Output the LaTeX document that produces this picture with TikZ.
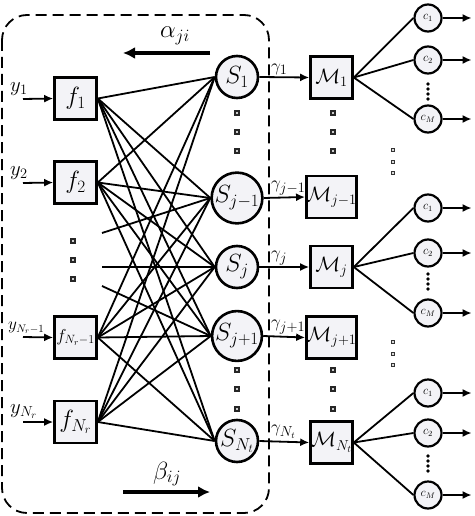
\documentclass[tikz,border=0pt]{standalone}
\usetikzlibrary{arrows.meta}
\definecolor{boxfill}{RGB}{243,243,247}
\tikzset{
  fbox/.style={draw, line width=2.6pt, fill=boxfill, minimum size=42pt, inner sep=0pt, font=\fontsize{24}{26}\selectfont},
  snode/.style={draw, circle, line width=2.6pt, fill=boxfill, minimum size=42pt, inner sep=0pt, font=\fontsize{25}{27}\selectfont},
  mbox/.style={draw, line width=2.6pt, fill=boxfill, minimum size=42pt, inner sep=0pt, font=\fontsize{20}{22}\selectfont},
  cnode/.style={draw, circle, line width=2.2pt, fill=boxfill, minimum size=27pt, inner sep=0pt, font=\fontsize{12}{14}\selectfont},
  edge/.style={line width=1.8pt},
  arr/.style={line width=1.8pt, -{Latex[length=9pt,width=8pt]}},
  bigarr/.style={line width=3.2pt, -{Latex[length=12pt,width=12pt]}},
  sqdot/.style={draw=black!85, line width=1.3pt, fill=gray!40, minimum size=4pt, inner sep=0pt},
  smdot/.style={draw=black!80, line width=0.9pt, fill=gray!30, minimum size=3pt, inner sep=0pt},
  lbl/.style={inner sep=1pt, font=\fontsize{20}{22}\selectfont},
  glbl/.style={inner sep=1pt, anchor=south west, font=\fontsize{19}{21}\selectfont},
}
\begin{document}
\begin{tikzpicture}[x=1pt,y=-1pt]
\useasboundingbox (0,0) rectangle (474,516);
% dashed frame
\draw[line width=1.8pt, dash pattern=on 11pt off 6pt, rounded corners=25pt] (2,15) rectangle (269,513);
% f nodes
\node[fbox] (f1) at (75.5,98.5) {$f_1$};
\node[fbox] (f2) at (75.5,182.5) {$f_2$};
\node[fbox, font=\fontsize{18}{20}\selectfont] (fa) at (75.5,337.5) {$f_{N_r-1}$};
\node[fbox] (fb) at (75.5,422) {$f_{N_r}$};
% inputs
\coordinate (i1) at (23,99);
\coordinate (i2) at (23,183);
\coordinate (ia) at (23,337);
\coordinate (ib) at (23,422);
\draw[arr] (i1) -- (f1.west);
\draw[arr] (i2) -- (f2.west);
\draw[arr] (ia) -- (fa.west);
\draw[arr] (ib) -- (fb.west);
\node[lbl, anchor=south west] (ly1) at (9,97) {$y_1$};
\node[lbl, anchor=south west] (ly2) at (9,181) {$y_2$};
\node[lbl, anchor=south west, font=\fontsize{16}{18}\selectfont] (lya) at (7,335) {$y_{N_r-1}$};
\node[lbl, anchor=south west] (lyb) at (9,420) {$y_{N_r}$};
% S nodes
\node[snode] (s1) at (237,77) {$S_1$};
\node[snode] (s2) at (237,198) {$S_{j-1}$};
\node[snode] (s3) at (237,267) {$S_j$};
\node[snode] (s4) at (237,336) {$S_{j+1}$};
\node[snode] (s5) at (237,441) {$S_{N_t}$};
% full bipartite edges
\foreach \f in {f1,f2,fa,fb}{
  \foreach \s in {s1,s2,s3,s4,s5}{
    \draw[edge] (\f.east) -- (\s.west);
  }
}
% edges from hidden inputs
\coordinate (g1) at (102,233);
\coordinate (g2) at (102,267);
\coordinate (g3) at (102,286);
\draw[edge] (g1) -- (s2.west);
\draw[edge] (g2) -- (s3.west);
\draw[edge] (g3) -- (s4.west);
% M nodes
\node[mbox] (m1) at (331.5,77.5) {$\mathcal{M}_1$};
\node[mbox] (m2) at (331.5,197) {$\mathcal{M}_{j-1}$};
\node[mbox] (m3) at (331.5,267) {$\mathcal{M}_j$};
\node[mbox] (m4) at (331.5,337.5) {$\mathcal{M}_{j+1}$};
\node[mbox] (m5) at (331.5,442.5) {$\mathcal{M}_{N_t}$};
\draw[arr] (s1.east) -- (m1.west);
\draw[arr] (s2.east) -- (m2.west);
\draw[arr] (s3.east) -- (m3.west);
\draw[arr] (s4.east) -- (m4.west);
\draw[arr] (s5.east) -- (m5.west);
\node[glbl] (g1l) at (270,76) {$\gamma_1$};
\node[glbl] (g2l) at (270,196) {$\gamma_{j-1}$};
\node[glbl] (g3l) at (270,266) {$\gamma_j$};
\node[glbl] (g4l) at (270,335) {$\gamma_{j+1}$};
\node[glbl] (g5l) at (270,440) {$\gamma_{N_t}$};
% c nodes
\foreach \g/\m/\ya/\yb/\yc in {A/m1/18/60/119, B/m3/208/253/313, C/m5/393/433/495}{
  \node[cnode] (\g1) at (428,\ya) {$c_1$};
  \node[cnode] (\g2) at (428,\yb) {$c_2$};
  \node[cnode] (\g3) at (428,\yc) {$c_M$};
  \foreach \k in {1,2,3}{
    \draw[edge] (\m.east) -- (\g\k.west);
  }
}
\foreach \g in {A,B,C}{
  \foreach \k in {1,2,3}{
    \draw[arr] (\g\k.east) -- ++(29,0) coordinate (\g\k e);
  }
}
% vertical bold dots between c2 and cM
\foreach \y in {84,89,94,99}{ \fill (428,\y) circle (1.9pt); }
\foreach \y in {274,279,284,289}{ \fill (428,\y) circle (1.9pt); }
\foreach \y in {456,461,466,471}{ \fill (428,\y) circle (1.9pt); }
% square dots
\foreach \y in {113,132,151,370,389,409}{
  \node[sqdot] at (237,\y) {};
  \node[sqdot] at (333,\y) {};
}
\foreach \y in {241,260,279}{ \node[sqdot] at (73,\y) {}; }
\foreach \y in {150,162,173,342,354,365}{ \node[smdot] at (393,\y) {}; }
% alpha / beta
\coordinate (aS) at (210,53);
\coordinate (aE) at (123,53);
\draw[bigarr] (aS) -- (aE);
\node[font=\fontsize{26}{28}\selectfont] (al) at (175,36) {$\alpha_{ji}$};
\coordinate (bS) at (123,492);
\coordinate (bE) at (210,492);
\draw[bigarr] (bS) -- (bE);
\node[font=\fontsize{26}{28}\selectfont] (bl) at (167,474) {$\beta_{ij}$};
\end{tikzpicture}
\end{document}
